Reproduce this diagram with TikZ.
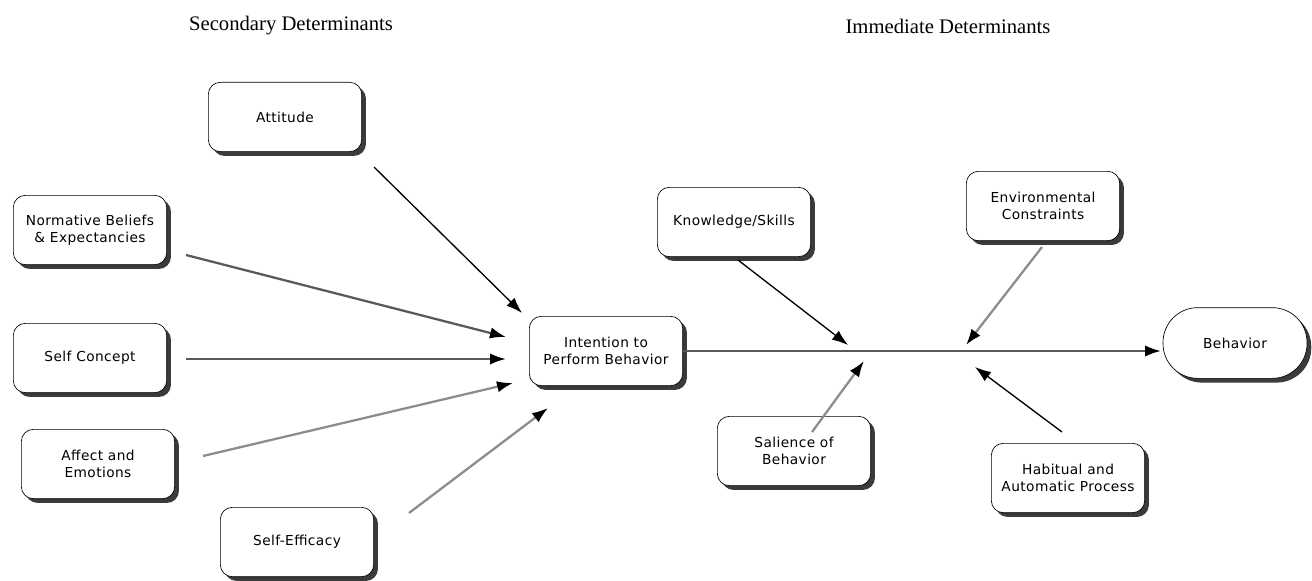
\documentclass[tikz,border=0pt]{standalone}
\usepackage{fontspec}
\setmainfont{Liberation Serif}
\newfontfamily\boxfont[LetterSpace=3]{DejaVu Sans}
\usetikzlibrary{arrows.meta,shadows}
\begin{document}
\begin{tikzpicture}[x=0.75pt,y=-0.75pt,
  box/.style={draw=black, line width=0.5pt, fill=white, rounded corners=9pt,
    minimum width=115pt, minimum height=52pt, align=center, inner sep=2pt,
    font=\boxfont\fontsize{10.3}{13}\selectfont,
    drop shadow={shadow xshift=3.2pt, shadow yshift=-3.2pt, fill=black!85, opacity=0.9}},
  pill/.style={box, rounded corners=26pt, minimum width=108pt, minimum height=53pt},
  head/.style={font=\fontsize{15.5}{18}\selectfont},
  arrB/.style={-{Latex[length=12pt,width=8.5pt]}, line width=1pt, draw=black},
  arrD/.style={-{Latex[length=12pt,width=8.5pt,color=black]}, line width=1.7pt, draw=black!65},
  arrG/.style={-{Latex[length=12pt,width=8.5pt,color=black]}, line width=1.7pt, draw=black!45}
]
\useasboundingbox (0,0) rectangle (1312,581);

% headers
\node[head] (h1) at (291,26) {Secondary Determinants};
\node[head] (h2) at (948,26) {Immediate Determinants};

% boxes
\node[box] (att) at (285,117) {Attitude};
\node[box] (nor) at (90,230) {Normative Beliefs\\\& Expectancies};
\node[box] (sc)  at (90,358) {Self Concept};
\node[box] (aff) at (98,464) {Affect and\\Emotions};
\node[box] (eff) at (297,542) {Self-Efficacy};
\node[box] (int) at (606,351) {Intention to\\Perform Behavior};
\node[box] (kn)  at (734,222) {Knowledge/Skills};
\node[box] (env) at (1043,206) {Environmental\\Constraints};
\node[box] (sal) at (794,451) {Salience of\\Behavior};
\node[box] (hab) at (1068,478) {Habitual and\\Automatic Process};
\node[pill] (beh) at (1235,343) {Behavior};

% connector end points
\coordinate (attS) at (374,167);  \coordinate (attE) at (522,313);
\coordinate (norS) at (186,255);  \coordinate (norE) at (506,337);
\coordinate (scS)  at (186,359);  \coordinate (scE)  at (506,359);
\coordinate (affS) at (203,456);  \coordinate (affE) at (513,383);
\coordinate (effS) at (409,513);  \coordinate (effE) at (548,408);
\coordinate (mainE) at (1161,351);
\coordinate (knS)  at (738,260);  \coordinate (knE)  at (848,345);
\coordinate (envS) at (1042,247); \coordinate (envE) at (966,345);
\coordinate (salS) at (812,432);  \coordinate (salE) at (864,361);
\coordinate (habS) at (1062,432); \coordinate (habE) at (975,367);

% connectors
\draw[arrB] (attS) -- (attE);
\draw[arrD] (norS) -- (norE);
\draw[arrD] (scS) -- (scE);
\draw[arrG] (affS) -- (affE);
\draw[arrG] (effS) -- (effE);
\draw[arrD] (int.east) -- (mainE);
\draw[arrB] (knS) -- (knE);
\draw[arrG] (envS) -- (envE);
\draw[arrG] (salS) -- (salE);
\draw[arrB] (habS) -- (habE);
\end{tikzpicture}
\end{document}
